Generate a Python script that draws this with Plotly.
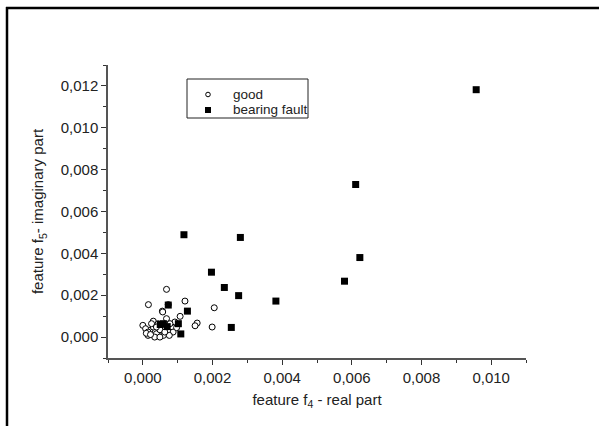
import plotly.graph_objects as go

# Data
good_x = [0.00205, 0.00068, 0.00016, 0.00121, 0.00156, 0.00150, 0.00199, 0.00056, 0.00107, 0.00073,
          0.00000, 0.00030, 0.00020, 0.00039, 0.00015, 0.00083, 0.00087, 0.00059, 0.00030, 0.00068,
          0.00092, 0.00008, 0.00044, 0.00025, 0.00076, 0.00049, 0.00015, 0.00097, 0.00039, 0.00063,
          0.00034, 0.00049, 0.00078, 0.00057, 0.00010, 0.00022]
good_y = [0.00140, 0.00228, 0.00155, 0.00172, 0.00067, 0.00054, 0.00048, 0.00124, 0.00099, 0.00155,
          0.00056, 0.00076, 0.00032, 0.00016, 0.00008, 0.00048, 0.00024, 0.00008, 0.00048, 0.00088,
          0.00072, 0.00040, 0.00064, 0.00064, 0.00008, 0.00035, 0.00024, 0.00045, 0.00048, 0.00024,
          0.00000, 0.00000, 0.00064, 0.00120, 0.00018, 0.00012]

fault_x = [0.00957, 0.00611, 0.00623, 0.00579, 0.00118, 0.00280, 0.00197, 0.00234, 0.00275, 0.00382,
           0.00254, 0.00128, 0.00109, 0.00059, 0.00102, 0.00073, 0.00050, 0.00070]
fault_y = [0.01182, 0.00729, 0.00380, 0.00267, 0.00489, 0.00476, 0.00310, 0.00237, 0.00198, 0.00172,
           0.00046, 0.00124, 0.00015, 0.00064, 0.00064, 0.00153, 0.00060, 0.00050]

series_names = ["good", "bearing fault"]

x_range = [-0.001, 0.011]
y_range = [-0.001, 0.013]

FONT = "Liberation Sans, Arial, sans-serif"

fig = go.Figure()
fig.add_trace(go.Scatter(
    x=good_x, y=good_y, mode="markers", name=series_names[0], showlegend=False,
    marker=dict(symbol="circle", size=6, color="white", line=dict(color="black", width=1)),
))
fig.add_trace(go.Scatter(
    x=fault_x, y=fault_y, mode="markers", name=series_names[1], showlegend=False,
    marker=dict(symbol="square", size=7, color="black", line=dict(color="black", width=0)),
))

L, R, T, B = 108, 73, 65, 68
W, H = 599, 426
pw, ph = W - L - R, H - T - B

def px(x):
    return (x - L) / pw

def py(y):
    return (H - B - y) / ph

axis_common = dict(
    showgrid=False, zeroline=False, showline=True, linecolor="#555", linewidth=1.5,
    ticks="outside", ticklen=5, tickwidth=1, tickcolor="#333",
    tickformat=".3f", dtick=0.002, tick0=0,
    minor=dict(ticks="outside", ticklen=3, dtick=0.001, tickcolor="#333", tickwidth=1),
    tickfont=dict(family=FONT, size=15, color="#222"),
    mirror=False,
)

# custom compact legend (box, symbols, labels)
leg_x0, leg_x1, leg_y0, leg_y1 = 187, 308, 79, 118
row_y = [94.5, 110]
sym_x = 208
txt_x = 231

shapes = [
    dict(type="line", xref="paper", yref="paper", x0=px(6), x1=px(599), y0=py(8), y1=py(8),
         line=dict(color="black", width=2.5)),
    dict(type="line", xref="paper", yref="paper", x0=px(7), x1=px(7), y0=py(7), y1=py(426),
         line=dict(color="black", width=2.5)),
    dict(type="rect", xref="paper", yref="paper", x0=px(leg_x0), x1=px(leg_x1),
         y0=py(leg_y0), y1=py(leg_y1), line=dict(color="#222", width=1), fillcolor="white",
         layer="below"),
    dict(type="circle", xref="paper", yref="paper", x0=px(sym_x - 2.3), x1=px(sym_x + 2.3),
         y0=py(row_y[0] - 2.3), y1=py(row_y[0] + 2.3), line=dict(color="black", width=1),
         fillcolor="white"),
    dict(type="rect", xref="paper", yref="paper", x0=px(sym_x - 3), x1=px(sym_x + 3),
         y0=py(row_y[1] - 3), y1=py(row_y[1] + 3), line=dict(color="black", width=0),
         fillcolor="black"),
]
annotations = [
    dict(text=series_names[i], xref="paper", yref="paper", x=px(txt_x), y=py(row_y[i]),
         xanchor="left", yanchor="middle", showarrow=False,
         font=dict(family=FONT, size=13.5, color="#222"))
    for i in range(2)
]

fig.update_layout(
    width=W, height=H,
    margin=dict(l=L, r=R, t=T, b=B),
    paper_bgcolor="white", plot_bgcolor="white",
    separators=",.",
    font=dict(family=FONT, size=15, color="#222"),
    xaxis=dict(range=x_range, title=dict(text="feature f<sub>4</sub> - real part",
                                         font=dict(family=FONT, size=15), standoff=10),
               **axis_common),
    yaxis=dict(range=y_range, title=dict(text="feature f<sub>5</sub>- imaginary part",
                                         font=dict(family=FONT, size=15), standoff=13),
               **axis_common),
    showlegend=False,
    shapes=shapes,
    annotations=annotations,
)

fig.write_html("out.html")
